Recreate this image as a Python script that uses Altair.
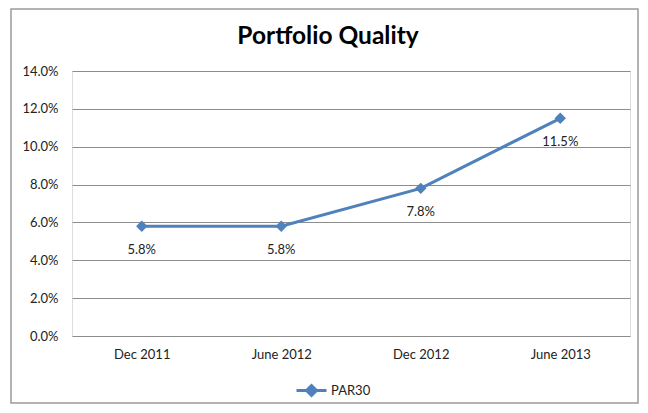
import altair as alt
import pandas as pd

title_text = ["Portfolio Quality"]
periods = ["Dec 2011", "June 2012", "Dec 2012", "June 2013"]
par30 = [0.058, 0.058, 0.078, 0.115]
series = ["PAR30"]
y_ticks = [0, 0.02, 0.04, 0.06, 0.08, 0.10, 0.12, 0.14]

df = pd.DataFrame({"period": periods, "value": par30, "series": series * len(periods)})

FONT = "Lato"
BLUE = "#4F81BD"
GRID = "#8C8C8C"

x = alt.X("period:N", sort=periods, scale=alt.Scale(type="point", padding=0.5),
          axis=alt.Axis(title=None, labelAngle=0, domain=False, ticks=False,
                        labelPadding=12, labelFontSize=13, labelColor="#222", labelFont=FONT))
y = alt.Y("value:Q", scale=alt.Scale(domain=[0, 0.14], nice=False),
          axis=alt.Axis(title=None, format=".1%", values=y_ticks, domain=False, ticks=False,
                        labelPadding=14, labelFontSize=13, labelColor="#222", labelFont=FONT,
                        gridColor=GRID, gridWidth=1))

color = alt.Color("series:N", scale=alt.Scale(domain=series, range=[BLUE]),
                  legend=alt.Legend(title=None, orient="none", legendX=233, legendY=313,
                                    symbolType="M-3,0L3,0M-1,0L0,-1L1,0L0,1Z",
                                    symbolSize=100, symbolStrokeWidth=3, symbolFillColor=BLUE,
                                    symbolStrokeColor=BLUE,
                                    labelFont=FONT, labelFontSize=13, labelColor="#222",
                                    labelOffset=13))

border = alt.Chart(pd.DataFrame({"a": [0]})).mark_rect(
    fill=None, stroke="#9A9A9A", strokeWidth=1.5
).encode(x=alt.value(-61), x2=alt.value(566), y=alt.value(-62), y2=alt.value(332))

title = alt.Chart(pd.DataFrame({"t": title_text})).mark_text(
    font=FONT, fontSize=24.5, fontWeight="bold", color="#000", baseline="middle", align="center"
).encode(x=alt.value(256), y=alt.value(-34), text="t:N")

line = alt.Chart(df).mark_line(strokeWidth=3).encode(x=x, y=y, color=color)
pts = alt.Chart(df).mark_point(shape="diamond", filled=True, size=130, opacity=1).encode(
    x=x, y=y, color=alt.Color("series:N", scale=alt.Scale(domain=series, range=[BLUE]), legend=None))
labels = alt.Chart(df).mark_text(dy=24, font=FONT, fontSize=13, color="#222").encode(
    x=x, y=y, text=alt.Text("value:Q", format=".1%"))

chart = alt.layer(border, title, line, pts, labels).properties(
    width=558, height=265,
    autosize=alt.AutoSizeParams(type="none"),
    padding={"left": 64, "top": 63, "right": 10, "bottom": 69},
).configure_view(stroke=None).configure(background="white")

chart.save("out.html", embed_options={"renderer": "svg", "actions": False})
